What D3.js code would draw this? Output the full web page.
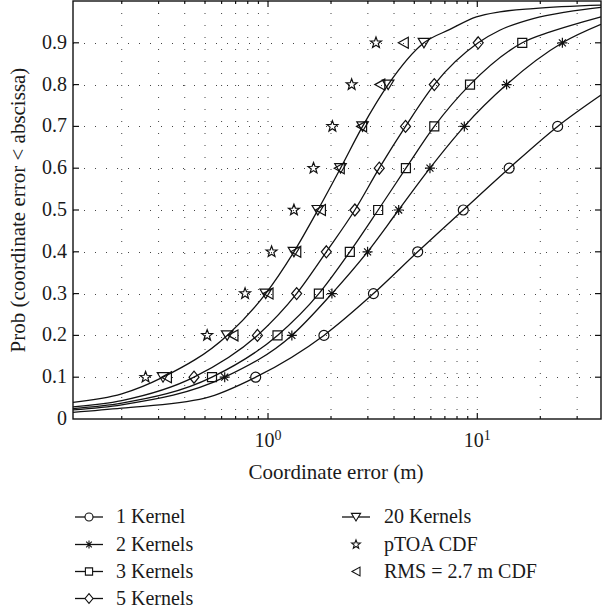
<!DOCTYPE html>
<html>
<head>
<meta charset="UTF-8">
<title>Coordinate error CDF</title>
<script src="https://d3js.org/d3.v7.min.js"></script>
<style>
  body { margin: 0; background: #fff; }
  svg text { font-family: "Liberation Serif", "DejaVu Serif", serif; fill: #1a1a1a; }
</style>
</head>
<body>
<div id="chart"></div>
<script>
// probability levels where markers sit
var levels = [0.1, 0.2, 0.3, 0.4, 0.5, 0.6, 0.7, 0.8, 0.9];
var yTicks = [0, 0.1, 0.2, 0.3, 0.4, 0.5, 0.6, 0.7, 0.8, 0.9];

// curves (x in metres, p = probability)
var k1X = [0.117, 0.2, 0.5, 0.873, 1.85, 3.19, 5.19, 8.57, 14.2, 24.2, 39];
var k1P = [0.016, 0.026, 0.05, 0.1, 0.2, 0.3, 0.4, 0.5, 0.6, 0.7, 0.775];

var k2X = [0.117, 0.2, 0.621, 1.30, 2.02, 2.99, 4.21, 5.94, 8.67, 13.8, 25.5, 39];
var k2P = [0.022, 0.034, 0.1, 0.2, 0.3, 0.4, 0.5, 0.6, 0.7, 0.8, 0.9, 0.944];

var k3X = [0.117, 0.2, 0.540, 1.11, 1.75, 2.46, 3.36, 4.56, 6.23, 9.23, 16.4, 22.3, 32, 39];
var k3P = [0.025, 0.038, 0.1, 0.2, 0.3, 0.4, 0.5, 0.6, 0.7, 0.8, 0.9, 0.926, 0.95, 0.962];

var k5X = [0.117, 0.2, 0.443, 0.89, 1.37, 1.90, 2.60, 3.40, 4.54, 6.23, 10.1, 12.8, 18.5, 26.8, 39];
var k5P = [0.029, 0.044, 0.1, 0.2, 0.3, 0.4, 0.5, 0.6, 0.7, 0.8, 0.9, 0.93, 0.958, 0.974, 0.985];

var k20X = [0.117, 0.2, 0.315, 0.638, 0.975, 1.33, 1.73, 2.22, 2.83, 3.75, 5.56, 7.4, 9.9, 12.8, 18.5, 39];
var k20P = [0.040, 0.060, 0.1, 0.2, 0.3, 0.4, 0.5, 0.6, 0.7, 0.8, 0.9, 0.932, 0.962, 0.974, 0.982, 0.99];

// point-only series (one x per level)
var ptoaX = [0.260, 0.512, 0.777, 1.04, 1.33, 1.65, 2.03, 2.51, 3.28];
var rmsX  = [0.327, 0.680, 1.00, 1.357, 1.78, 2.19, 2.80, 3.42, 4.43];

var seriesNames = ["1 Kernel", "2 Kernels", "3 Kernels", "5 Kernels", "20 Kernels", "pTOA CDF", "RMS = 2.7 m CDF"];

// ---------- layout
var W = 602, H = 613;
var margin = {top: 1, right: 1, bottom: 194, left: 73};
var width = W - margin.left - margin.right,
    height = H - margin.top - margin.bottom;

var svg = d3.select("#chart").append("svg")
  .attr("width", W)
  .attr("height", H);

var g = svg.append("g")
  .attr("transform", "translate(" + margin.left + "," + margin.top + ")");

var xScale = d3.scaleLog().domain([0.117, 39]).range([0, width]);
var yScale = d3.scaleLinear().domain([0, 1]).range([height, 0]);

// marker shapes
function starPath(ro, ri) {
  var p = [];
  for (var i = 0; i < 10; i++) {
    var r = i % 2 ? ri : ro;
    var a = -Math.PI / 2 + i * Math.PI / 5;
    p.push([r * Math.cos(a), r * Math.sin(a)]);
  }
  return "M" + p.map(function(d){ return d[0].toFixed(2) + "," + d[1].toFixed(2); }).join("L") + "Z";
}
function shapes(s) {
  return {
    circle: "M" + s + ",0A" + s + "," + s + " 0 1,1 " + (-s) + ",0A" + s + "," + s + " 0 1,1 " + s + ",0Z",
    aster: "M" + (-s) + ",0L" + s + ",0M0," + (-s) + "L0," + s +
           "M" + (-s*0.7) + "," + (-s*0.7) + "L" + (s*0.7) + "," + (s*0.7) +
           "M" + (-s*0.7) + "," + (s*0.7) + "L" + (s*0.7) + "," + (-s*0.7),
    square: "M" + (-s*0.9) + "," + (-s*0.9) + "H" + (s*0.9) + "V" + (s*0.9) + "H" + (-s*0.9) + "Z",
    diamond: "M0," + (-s*1.2) + "L" + s + ",0L0," + (s*1.2) + "L" + (-s) + ",0Z",
    down: "M" + (-s*1.15) + "," + (-s*0.9) + "L" + (s*1.15) + "," + (-s*0.9) + "L0," + (s*1.0) + "Z",
    star: starPath(s * 1.15, s * 0.48),
    left: "M" + (-s) + ",0L" + s + "," + (-s*1.1) + "L" + s + "," + (s*1.1) + "Z"
  };
}
var plotShapes = shapes(5);
var keyShapes = shapes(4);
var markerKeys = ["circle", "aster", "square", "diamond", "down", "star", "left"];

// ---------- grid
var minorX = [];
[0.1, 1, 10].forEach(function(dec) {
  for (var m = 1; m <= 9; m++) {
    var v = dec * m;
    if (v >= 0.117 && v <= 39) minorX.push(v);
  }
});

g.append("g").selectAll("line").data(minorX).enter().append("line")
  .attr("x1", function(d){ return xScale(d); })
  .attr("x2", function(d){ return xScale(d); })
  .attr("y1", 0).attr("y2", height)
  .attr("stroke", "#444").attr("stroke-width", 1)
  .attr("stroke-dasharray", "1,11");

g.append("g").selectAll("line").data(levels).enter().append("line")
  .attr("x1", 0).attr("x2", width)
  .attr("y1", function(d){ return Math.round(yScale(d)) + 0.5; })
  .attr("y2", function(d){ return Math.round(yScale(d)) + 0.5; })
  .attr("stroke", "#444").attr("stroke-width", 1)
  .attr("stroke-dasharray", "1,10");

// ---------- curves
var clip = svg.append("defs").append("clipPath").attr("id", "clip")
  .append("rect").attr("width", width).attr("height", height);

var line = d3.line()
  .x(function(d){ return xScale(d[0]); })
  .y(function(d){ return yScale(d[1]); })
  .curve(d3.curveMonotoneX);

var kernels = [[k1X, k1P], [k2X, k2P], [k3X, k3P], [k5X, k5P], [k20X, k20P]];

var plot = g.append("g").attr("clip-path", "url(#clip)");

kernels.forEach(function(k, i) {
  var pts = k[0].map(function(x, j){ return [x, k[1][j]]; });
  plot.append("path")
    .datum(pts)
    .attr("d", line)
    .attr("fill", "none")
    .attr("stroke", "#111")
    .attr("stroke-width", 1.3);

  var marks = pts.filter(function(d){ return levels.indexOf(d[1]) >= 0; });
  plot.selectAll(".m" + i).data(marks).enter().append("path")
    .attr("class", "m" + i)
    .attr("transform", function(d){ return "translate(" + xScale(d[0]) + "," + yScale(d[1]) + ")"; })
    .attr("d", plotShapes[markerKeys[i]])
    .attr("fill", "none")
    .attr("stroke", "#111")
    .attr("stroke-width", 1.2);
});

[ptoaX, rmsX].forEach(function(xs, i) {
  var key = markerKeys[5 + i];
  plot.selectAll(".p" + i).data(xs).enter().append("path")
    .attr("class", "p" + i)
    .attr("transform", function(d, j){ return "translate(" + xScale(d) + "," + yScale(levels[j]) + ")"; })
    .attr("d", plotShapes[key])
    .attr("fill", "none")
    .attr("stroke", "#111")
    .attr("stroke-width", 1.2);
});

// ---------- frame and ticks
g.append("rect")
  .attr("width", width).attr("height", height)
  .attr("fill", "none").attr("stroke", "#111").attr("stroke-width", 1.4);

var xTickData = minorX.map(function(v){ return {v: v, major: (v === 1 || v === 10)}; });
["bottom", "top"].forEach(function(side) {
  g.append("g").selectAll("line").data(xTickData).enter().append("line")
    .attr("x1", function(d){ return xScale(d.v); })
    .attr("x2", function(d){ return xScale(d.v); })
    .attr("y1", side === "bottom" ? height : 0)
    .attr("y2", function(d){
      var len = d.major ? 6 : 3;
      return side === "bottom" ? height - len : len;
    })
    .attr("stroke", "#111").attr("stroke-width", 1.2);
});

[0, width].forEach(function(x0) {
  g.append("g").selectAll("line").data(yTicks.slice(1)).enter().append("line")
    .attr("x1", x0).attr("x2", x0 === 0 ? 6 : width - 6)
    .attr("y1", function(d){ return yScale(d); })
    .attr("y2", function(d){ return yScale(d); })
    .attr("stroke", "#111").attr("stroke-width", 1.2);
});

// y tick labels
g.append("g").selectAll("text").data(yTicks).enter().append("text")
  .attr("x", -6)
  .attr("y", function(d){ return yScale(d) + 6; })
  .attr("text-anchor", "end")
  .attr("font-size", 20)
  .text(function(d){ return d === 0 ? "0" : d.toFixed(1); });

// x tick labels 10^0, 10^1
var xLabels = [{v: 1, e: "0"}, {v: 10, e: "1"}];
xLabels.forEach(function(d) {
  var t = g.append("text")
    .attr("x", xScale(d.v))
    .attr("y", height + 27.5)
    .attr("text-anchor", "middle")
    .attr("font-size", 20);
  t.append("tspan").text("10");
  t.append("tspan").attr("dy", -7).attr("font-size", 14).text(d.e);
});

// axis titles
g.append("text")
  .attr("x", xScale(1) + 68)
  .attr("y", height + 60)
  .attr("text-anchor", "middle")
  .attr("font-size", 21)
  .text("Coordinate error (m)");

svg.append("text")
  .attr("transform", "translate(25," + (margin.top + height / 2) + ") rotate(-90)")
  .attr("text-anchor", "middle")
  .attr("font-size", 21)
  .text("Prob (coordinate error < abscissa)");

// ---------- legend
var legend = svg.append("g");
var rowY = [517, 544.5, 571.5, 598.5];
seriesNames.forEach(function(name, i) {
  var col = i < 4 ? 0 : 1;
  var row = i < 4 ? i : i - 4;
  var cx = col === 0 ? 89 : 356;
  var tx = col === 0 ? 116 : 384;
  var cy = rowY[row];
  if (i < 5) {
    legend.append("line")
      .attr("x1", cx - 14).attr("x2", cx + 14)
      .attr("y1", cy).attr("y2", cy)
      .attr("stroke", "#111").attr("stroke-width", 1.3);
  }
  legend.append("path")
    .attr("transform", "translate(" + cx + "," + cy + ")")
    .attr("d", keyShapes[markerKeys[i]])
    .attr("fill", i < 5 ? "#fff" : "none")
    .attr("stroke", "#111")
    .attr("stroke-width", 1.1);
  legend.append("text")
    .attr("x", tx)
    .attr("y", cy + 6)
    .attr("font-size", 20)
    .text(name);
});
</script>
</body>
</html>
